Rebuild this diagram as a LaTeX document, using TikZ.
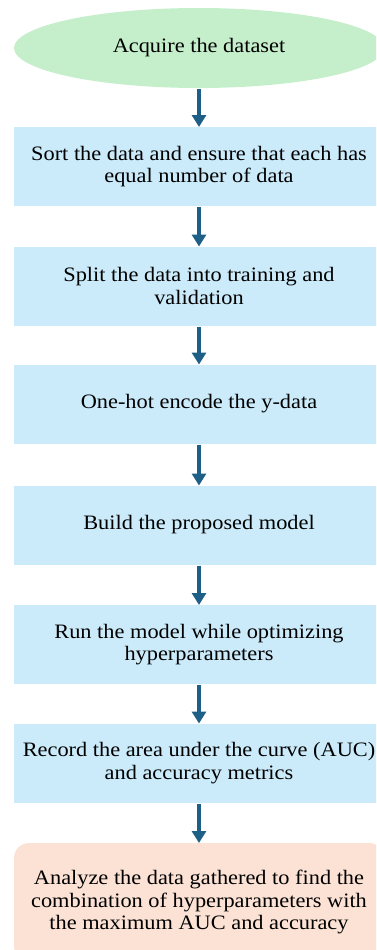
\documentclass[tikz,border=0pt]{standalone}
\usepackage{fontspec}
\setmainfont{Liberation Serif}[FakeStretch=1.09]
\usetikzlibrary{shapes.geometric,arrows.meta}
\definecolor{startgreen}{HTML}{C5EFCB}
\definecolor{stepblue}{HTML}{CBEBFA}
\definecolor{endpeach}{HTML}{FBE2D5}
\definecolor{arrowblue}{HTML}{1D5F86}
\begin{document}
\begin{tikzpicture}[x=1pt,y=-1pt,inner sep=0pt,outer sep=0pt,
font=\fontsize{20.5}{22.5}\selectfont,
stepbox/.style={rectangle,fill=stepblue,minimum width=370pt,minimum height=79pt,align=center},
startnode/.style={ellipse,fill=startgreen,minimum width=370pt,minimum height=80pt,align=center},
endbox/.style={rectangle,rounded corners=15pt,fill=endpeach,minimum width=370pt,minimum height=118pt,align=center},
flow/.style={-{Triangle[width=14pt,length=12pt]},line width=4pt,draw=arrowblue,fill=arrowblue,shorten <=1pt}]
\useasboundingbox (0,0) rectangle (376,950);
\clip (0,0) rectangle (376,950);
\draw (199,48) node[startnode] (acq) {Acquire the dataset};
\draw (199,166.5) node[stepbox] (sort) {Sort the data and ensure that each has\\equal number of data};
\draw (199,286) node[stepbox] (split) {Split the data into training and\\validation};
\draw (199,404) node[stepbox] (enc) {One-hot encode the y-data};
\draw (199,525) node[stepbox] (build) {Build the proposed model};
\draw (199,644.5) node[stepbox] (run) {Run the model while optimizing\\hyperparameters};
\draw (199,763) node[stepbox] (rec) {Record the area under the curve (AUC)\\and accuracy metrics};
\draw (199,902) node[endbox] (ana) {Analyze the data gathered to find the\\combination of hyperparameters with\\the maximum AUC and accuracy};
\draw[flow] (acq) -- (sort);
\draw[flow] (sort) -- (split);
\draw[flow] (split) -- (enc);
\draw[flow] (enc) -- (build);
\draw[flow] (build) -- (run);
\draw[flow] (run) -- (rec);
\draw[flow] (rec) -- (ana);
\end{tikzpicture}
\end{document}
